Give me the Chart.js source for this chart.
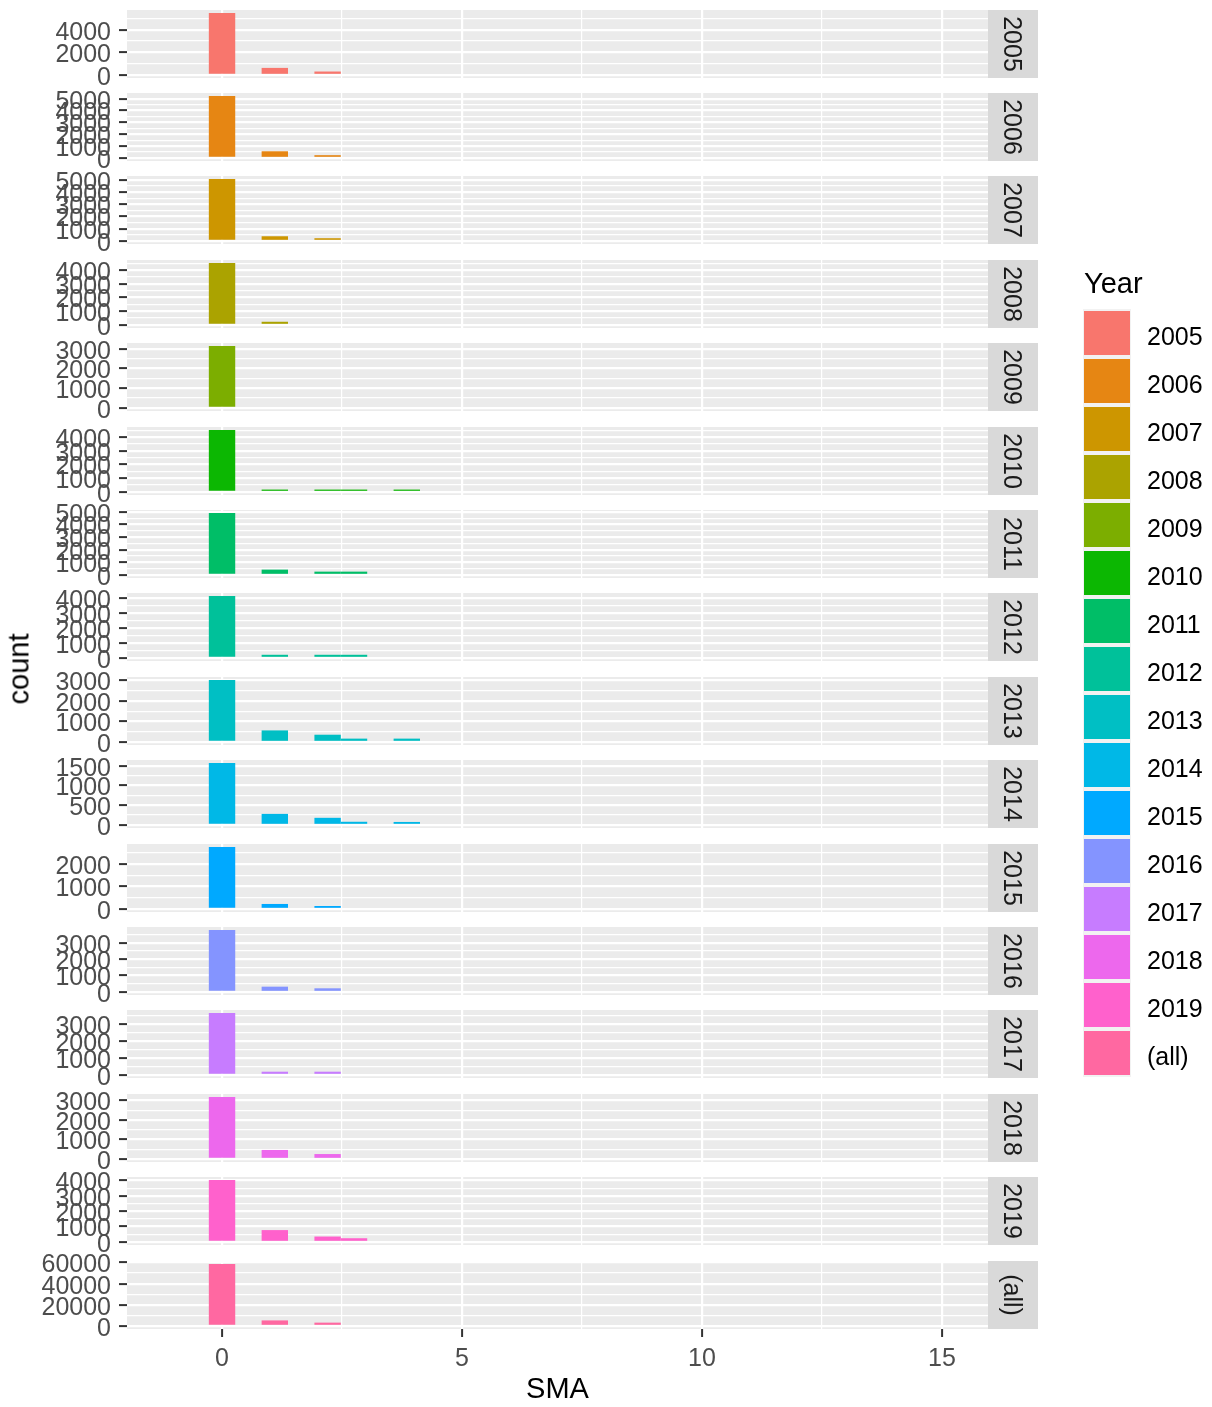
<!DOCTYPE html>
<html>
<head>
<meta charset="utf-8">
<script src="https://cdn.jsdelivr.net/npm/chart.js@4.4.1/dist/chart.umd.min.js"></script>
<style>
html,body{margin:0;padding:0;background:#ffffff;}
body{width:1212px;height:1407px;overflow:hidden;position:relative;font-family:"Liberation Sans",Arial,sans-serif;}
canvas.panel{position:absolute;left:0;}
.abs{position:absolute;white-space:nowrap;}
</style>
</head>
<body>
<script>
// ---------- data ----------
const years = ['2005','2006','2007','2008','2009','2010','2011','2012','2013','2014','2015','2016','2017','2018','2019','(all)'];
const yearColors = ['#F8766D','#E68613','#CD9600','#ABA300','#7CAE00','#0CB702','#00BE67','#00C19A','#00BFC4','#00B8E7','#00A9FF','#8494FF','#C77CFF','#ED68ED','#FF61CC','#FF68A1'];
// histogram bin centres (SMA)
const binCenters = [0, 0.55, 1.1, 1.65, 2.2, 2.75, 3.3, 3.85];
// counts per bin, one array per facet
const count2005 = [5470, 0, 620, 0, 300, 0, 0, 0];
const count2006 = [5220, 0, 560, 0, 230, 0, 0, 0];
const count2007 = [5060, 0, 380, 0, 220, 0, 0, 0];
const count2008 = [4520, 0, 230, 0, 0, 0, 0, 0];
const count2009 = [3130, 0, 0, 0, 0, 0, 0, 0];
const count2010 = [4510, 0, 170, 0, 170, 170, 0, 170];
const count2011 = [4910, 0, 420, 0, 260, 260, 0, 0];
const count2012 = [4150, 0, 210, 0, 210, 210, 0, 0];
const count2013 = [3010, 0, 560, 0, 350, 160, 0, 160];
const count2014 = [1570, 0, 280, 0, 180, 80, 0, 75];
const count2015 = [2750, 0, 220, 0, 130, 0, 0, 0];
const count2016 = [3770, 0, 320, 0, 220, 0, 0, 0];
const count2017 = [3650, 0, 190, 0, 190, 0, 0, 0];
const count2018 = [3180, 0, 460, 0, 250, 0, 0, 0];
const count2019 = [4030, 0, 770, 0, 350, 240, 0, 0];
const countAll  = [58500, 0, 5200, 0, 3100, 0, 0, 0];
const counts = [count2005,count2006,count2007,count2008,count2009,count2010,count2011,count2012,count2013,count2014,count2015,count2016,count2017,count2018,count2019,countAll];
// y tick (major break) spacing per facet
const yTickSteps = [2000,1000,1000,1000,1000,1000,1000,1000,1000,500,1000,1000,1000,1000,1000,20000];
// x tick labels
const xTickLabels = ['0','5','10','15'];
const xMajorStep = 5;
const xLimits = [-1.98, 15.96];

// ---------- layout / style ----------
const FONT = '"Liberation Sans", Arial, "DejaVu Sans", sans-serif';
const PANEL_LEFT = 127, PANEL_RIGHT = 988, STRIP_W = 50, CANVAS_W = 1040;
const PAD = 22;
const PANEL_H = 68;
const TXT = 25;

function isMult(v, s){ return Math.abs(v/s - Math.round(v/s)) < 1e-6; }

const panelPlugin = {
  id: 'facetPanel',
  beforeDraw(chart, args, opts){
    const {ctx, chartArea:a} = chart;
    ctx.save();
    ctx.fillStyle = '#EBEBEB';
    ctx.fillRect(a.left, a.top, a.right - a.left, a.bottom - a.top);
    ctx.restore();
  },
  afterDraw(chart, args, opts){
    const {ctx, chartArea:a} = chart;
    ctx.save();
    ctx.fillStyle = '#D9D9D9';
    ctx.fillRect(a.right, a.top, STRIP_W, a.bottom - a.top);
    ctx.translate(a.right + 23, (a.top + a.bottom) / 2);
    ctx.rotate(Math.PI / 2);
    ctx.fillStyle = '#1A1A1A';
    ctx.font = TXT + 'px ' + FONT;
    ctx.textAlign = 'center';
    ctx.textBaseline = 'middle';
    ctx.fillText(opts.label, 0, 0);
    ctx.restore();
  }
};

const n = years.length;
years.forEach((yr, i) => {
  const top = Math.round(9.5 + 83.4 * i);
  const last = (i === n - 1);
  const axisH = last ? 1407 - (top + PANEL_H) : 0;
  const cH = PAD + PANEL_H + (last ? axisH : PAD);
  const cv = document.createElement('canvas');
  cv.className = 'panel';
  cv.width = CANVAS_W; cv.height = cH;
  cv.style.width = CANVAS_W + 'px'; cv.style.height = cH + 'px';
  cv.style.top = (top - PAD) + 'px';
  document.body.appendChild(cv);

  const vals = counts[i];
  const M = Math.max(...vals);
  const step = yTickSteps[i];
  const yMin = -0.05 * M, yMax = 1.05 * M;
  const half = step / 2;
  const yTicks = [];
  for (let v = Math.ceil(yMin / half) * half; v <= yMax + 1e-9; v += half) yTicks.push(Math.round(v));
  const xTicks = [];
  for (let v = Math.ceil(xLimits[0] / 2.5) * 2.5; v <= xLimits[1] + 1e-9; v += 2.5) xTicks.push(+v.toFixed(3));

  const yMajor = ctx => ctx.tick && isMult(ctx.tick.value, step);
  const xMajor = ctx => ctx.tick && isMult(ctx.tick.value, xMajorStep);

  new Chart(cv, {
    type: 'bar',
    data: {
      datasets: [{
        label: yr,
        data: binCenters.map((x, k) => ({x: x, y: vals[k]})),
        backgroundColor: yearColors[i],
        borderWidth: 0,
        inflateAmount: 0,
        barPercentage: 1,
        categoryPercentage: 1
      }]
    },
    plugins: [panelPlugin],
    options: {
      responsive: false,
      animation: false,
      devicePixelRatio: 1,
      events: [],
      layout: {padding: {left: 0, right: CANVAS_W - PANEL_RIGHT, top: PAD, bottom: last ? 0 : PAD}},
      plugins: {
        legend: {display: false},
        tooltip: {enabled: false},
        facetPanel: {label: yr}
      },
      scales: {
        x: {
          type: 'linear',
          min: xLimits[0], max: xLimits[1],
          offset: false,
          border: {display: false},
          afterBuildTicks: s => { s.ticks = xTicks.map(v => ({value: v})); },
          afterFit: s => { s.height = axisH; s.paddingLeft = 0; s.paddingRight = 0; },
          grid: {
            offset: false,
            color: '#FFFFFF',
            lineWidth: ctx => xMajor(ctx) ? 2.2 : 1.2,
            drawTicks: last,
            tickLength: 8,
            tickColor: ctx => xMajor(ctx) ? '#333333' : 'rgba(0,0,0,0)',
            tickWidth: ctx => xMajor(ctx) ? 2 : 0
          },
          ticks: {
            display: last,
            autoSkip: false,
            maxRotation: 0, minRotation: 0,
            padding: 7,
            color: '#4D4D4D',
            font: {family: FONT, size: TXT},
            callback: v => isMult(v, xMajorStep) ? (xTickLabels[Math.round(v / xMajorStep)] ?? String(v)) : ''
          },
          title: {
            display: last,
            text: 'SMA',
            color: '#000000',
            font: {family: FONT, size: 29},
            padding: {top: 0, bottom: 0}
          }
        },
        y: {
          type: 'linear',
          min: yMin, max: yMax,
          border: {display: false},
          afterBuildTicks: s => { s.ticks = yTicks.map(v => ({value: v})); },
          afterFit: s => { s.width = PANEL_LEFT; s.paddingTop = 0; s.paddingBottom = 0; },
          grid: {
            offset: false,
            color: '#FFFFFF',
            lineWidth: ctx => yMajor(ctx) ? 2.2 : 1.2,
            drawTicks: true,
            tickLength: 8,
            tickColor: ctx => yMajor(ctx) ? '#333333' : 'rgba(0,0,0,0)',
            tickWidth: ctx => yMajor(ctx) ? 2 : 0
          },
          ticks: {
            autoSkip: false,
            padding: 8,
            labelOffset: 3,
            color: '#4D4D4D',
            font: {family: FONT, size: TXT},
            callback: v => isMult(v, step) ? String(Math.round(v)) : ''
          }
        }
      }
    }
  });
});

// ---------- y-axis title ----------
const yTitle = document.createElement('div');
yTitle.className = 'abs';
yTitle.textContent = 'count';
yTitle.style.cssText += 'left:19px;top:669px;font-size:29px;line-height:29px;color:#000;transform:translate(-50%,-50%) rotate(-90deg);';
document.body.appendChild(yTitle);

// ---------- legend ----------
const lgTitle = document.createElement('div');
lgTitle.className = 'abs';
lgTitle.textContent = 'Year';
lgTitle.style.cssText += 'left:1084px;top:266px;font-size:29px;line-height:34px;color:#000;';
document.body.appendChild(lgTitle);
years.forEach((yr, i) => {
  const kt = 311 + 48 * i;
  const bg = document.createElement('div');
  bg.className = 'abs';
  bg.style.cssText += `left:1083px;top:${kt-2}px;width:48px;height:48px;background:#F2F2F2;`;
  document.body.appendChild(bg);
  const key = document.createElement('div');
  key.className = 'abs';
  key.style.cssText += `left:1084px;top:${kt}px;width:46px;height:44px;background:${yearColors[i]};`;
  document.body.appendChild(key);
  const lab = document.createElement('div');
  lab.className = 'abs';
  lab.textContent = yr;
  lab.style.cssText += `left:1147px;top:${kt+3}px;height:44px;line-height:44px;font-size:${TXT}px;color:#000;`;
  document.body.appendChild(lab);
});
</script>
</body>
</html>
